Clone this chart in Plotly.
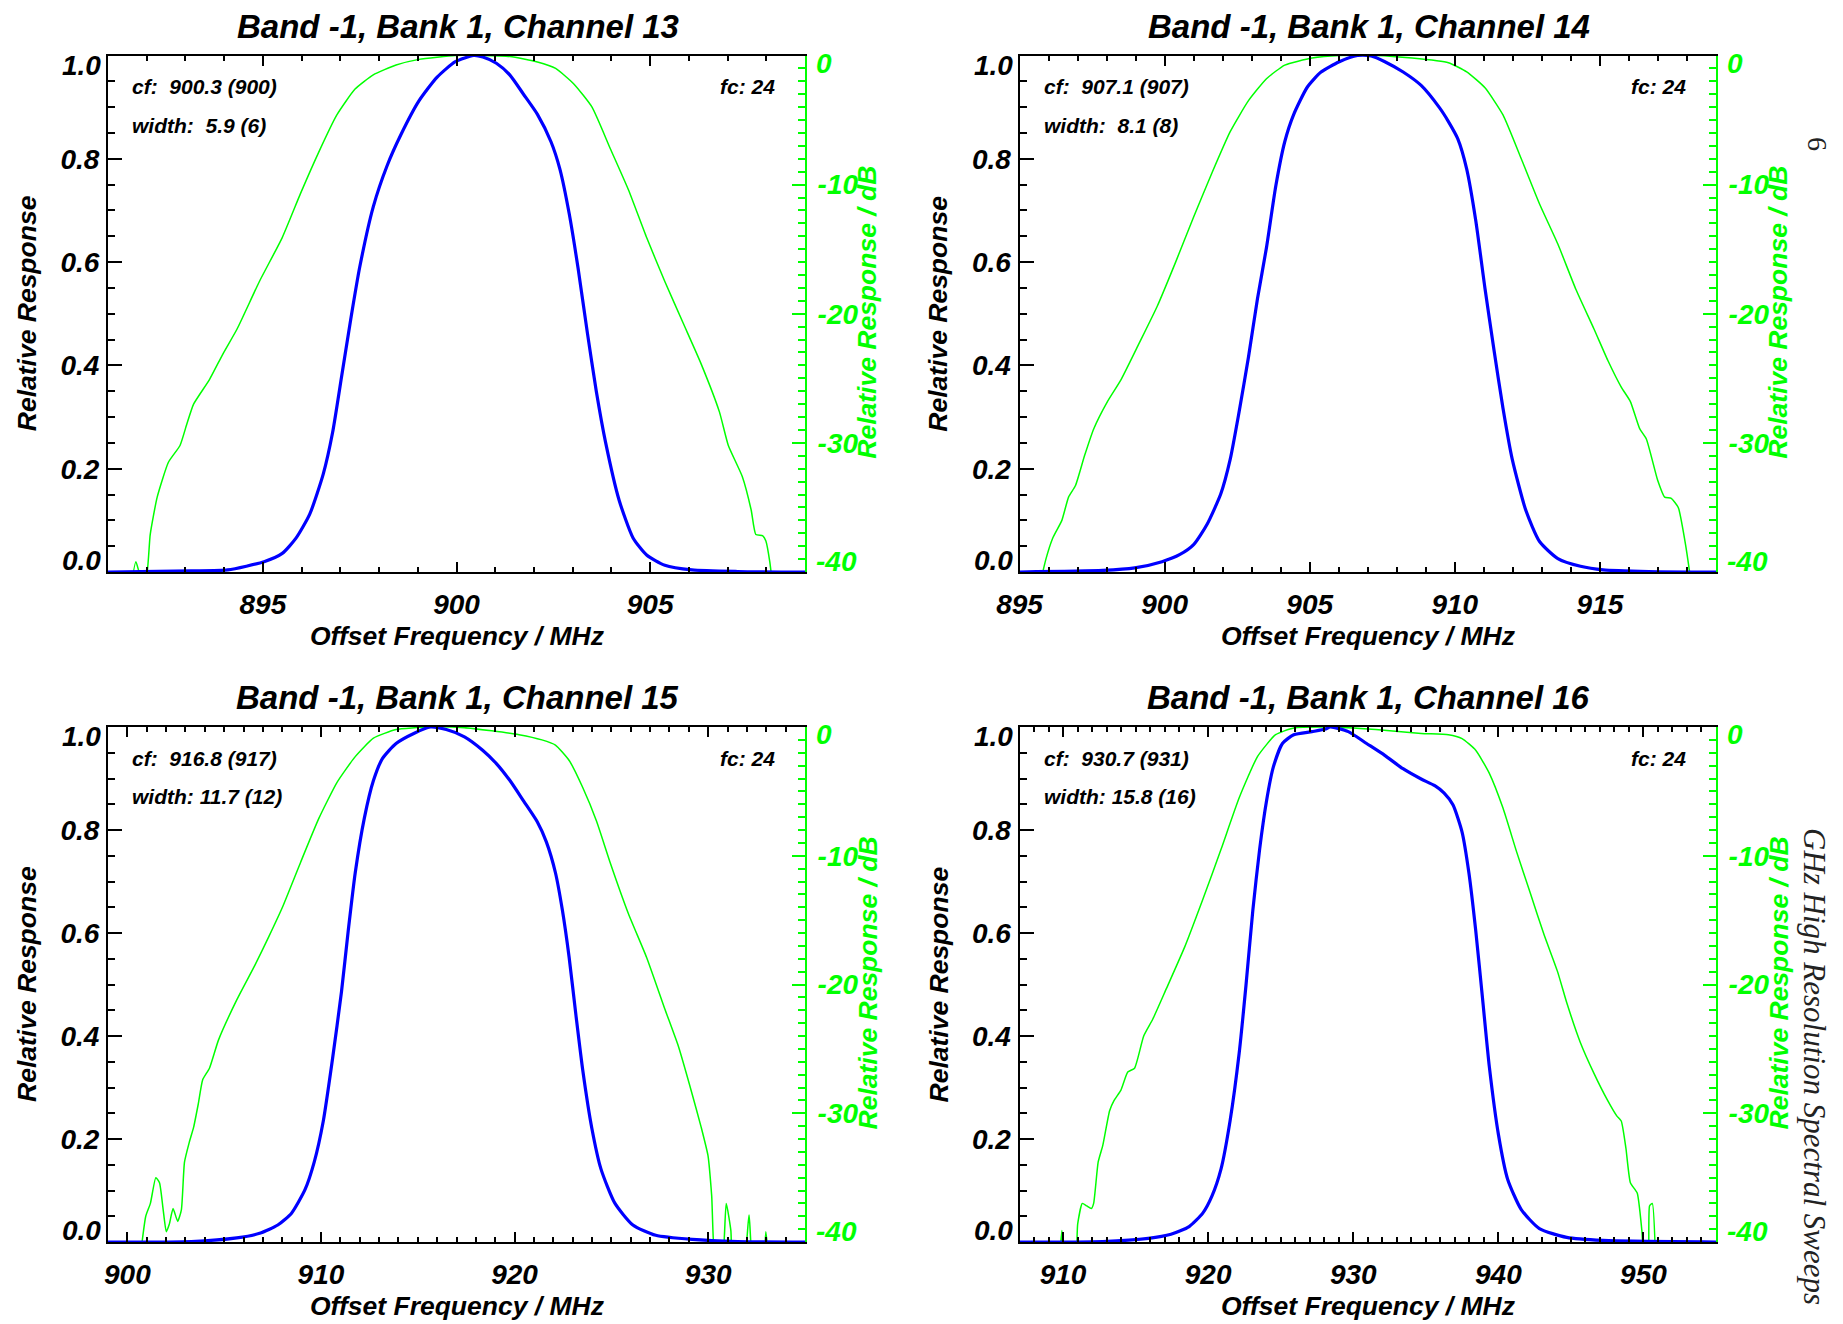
import plotly.graph_objects as go

W, H = 1843, 1324

# ---------------- data ----------------
# Channel 13
ch13_lin_f = [891.0, 893.15, 894.09, 895.03, 895.50, 895.86, 896.21, 896.56, 896.80, 897.03, 897.27, 897.50, 897.85, 898.21, 898.56, 899.03, 899.50, 899.97, 900.44, 900.68, 901.03, 901.38, 901.73, 902.09, 902.44, 902.67, 902.91, 903.14, 903.38, 903.61, 903.85, 904.20, 904.56, 904.91, 905.38, 906.08, 907.26, 909.0]
ch13_lin = [0.0, 0.002, 0.004, 0.020, 0.036, 0.066, 0.112, 0.190, 0.270, 0.377, 0.490, 0.590, 0.707, 0.787, 0.846, 0.912, 0.958, 0.988, 1.0, 0.997, 0.985, 0.962, 0.925, 0.886, 0.833, 0.780, 0.694, 0.588, 0.463, 0.350, 0.251, 0.139, 0.066, 0.033, 0.013, 0.004, 0.001, 0.0]
ch13_db_f = [891.55, 891.72, 891.86, 891.98, 892.09, 892.27, 892.56, 892.86, 893.03, 893.21, 893.62, 893.97, 894.33, 894.91, 895.50, 895.97, 896.44, 896.91, 897.38, 897.85, 898.44, 899.03, 899.97, 900.56, 901.38, 902.09, 902.56, 903.03, 903.50, 903.97, 904.44, 904.91, 905.38, 905.85, 906.32, 906.79, 907.02, 907.38, 907.61, 907.73, 907.91, 907.99, 908.09, 908.2]
ch13_db = [-42, -39.2, -40.5, -40.5, -37.1, -34.2, -31.5, -30.2, -28.6, -27.0, -25.1, -23.1, -21.2, -17.5, -14.1, -10.7, -7.5, -4.6, -2.6, -1.5, -0.74, -0.3, 0.0, 0.0, -0.08, -0.5, -1.0, -2.2, -4.0, -7.2, -10.4, -14.1, -17.5, -20.7, -23.9, -27.6, -30.2, -32.6, -35.2, -37.1, -37.2, -37.6, -39.2, -42]

# Channel 14
ch14_lin_f = [895.0, 897.87, 898.97, 899.91, 900.53, 901.0, 901.47, 901.94, 902.26, 902.57, 902.89, 903.20, 903.51, 903.83, 904.14, 904.45, 904.92, 905.39, 906.02, 906.65, 907.12, 907.59, 908.22, 908.84, 909.47, 909.78, 910.10, 910.41, 910.72, 911.04, 911.35, 911.66, 911.98, 912.45, 912.92, 913.55, 914.33, 915.11, 916.68, 919.0]
ch14_lin = [0.0, 0.003, 0.008, 0.020, 0.034, 0.053, 0.093, 0.152, 0.218, 0.311, 0.416, 0.529, 0.628, 0.747, 0.833, 0.886, 0.939, 0.968, 0.988, 1.0, 0.999, 0.988, 0.968, 0.942, 0.899, 0.872, 0.839, 0.780, 0.681, 0.549, 0.430, 0.317, 0.218, 0.119, 0.059, 0.026, 0.011, 0.004, 0.001, 0.0]
ch14_db_f = [895.6, 895.91, 896.14, 896.46, 896.69, 896.93, 897.24, 897.56, 898.03, 898.50, 899.12, 899.75, 900.38, 901.0, 901.63, 902.26, 902.89, 903.51, 904.14, 905.08, 906.02, 907.27, 908.53, 909.78, 910.41, 911.04, 911.66, 912.29, 912.92, 913.55, 914.17, 914.80, 915.27, 915.74, 916.05, 916.37, 916.60, 916.99, 917.23, 917.46, 917.70, 917.93, 918.09, 918.2]
ch14_db = [-42, -39.0, -37.4, -36.0, -34.2, -33.3, -31.0, -28.9, -26.8, -25.1, -22.3, -19.4, -16.0, -12.5, -9.1, -5.9, -3.5, -1.8, -0.74, -0.2, 0.0, 0.0, -0.2, -0.56, -1.27, -2.5, -4.6, -8.0, -11.5, -14.6, -18.1, -21.2, -23.6, -25.7, -26.8, -28.9, -29.7, -32.9, -34.2, -34.3, -35.0, -37.6, -40.0, -42]

# Channel 15
ch15_lin_f = [899.0, 903.30, 905.65, 906.83, 907.77, 908.48, 909.18, 909.65, 910.12, 910.59, 911.06, 911.41, 911.77, 912.24, 912.71, 913.18, 913.88, 914.82, 915.65, 916.47, 917.41, 918.35, 919.06, 919.76, 920.47, 921.17, 921.64, 922.11, 922.47, 922.82, 923.17, 923.52, 923.99, 924.46, 925.17, 926.11, 927.29, 929.17, 931.52, 935.0]
ch15_lin = [0.0, 0.001, 0.008, 0.017, 0.033, 0.056, 0.102, 0.155, 0.235, 0.354, 0.486, 0.605, 0.717, 0.823, 0.896, 0.939, 0.968, 0.988, 1.0, 0.995, 0.981, 0.955, 0.929, 0.896, 0.856, 0.816, 0.777, 0.717, 0.644, 0.552, 0.440, 0.334, 0.221, 0.142, 0.076, 0.033, 0.013, 0.005, 0.001, 0.0]
ch15_db_f = [900.6, 900.95, 901.19, 901.47, 901.66, 901.85, 902.01, 902.17, 902.36, 902.60, 902.79, 902.95, 903.19, 903.42, 903.66, 903.89, 904.24, 904.71, 905.65, 906.59, 907.30, 908.01, 908.95, 909.89, 910.83, 911.77, 912.71, 913.88, 915.53, 917.41, 918.82, 920.23, 921.41, 922.11, 922.82, 923.52, 924.23, 924.93, 925.88, 926.82, 927.76, 928.46, 929.17, 929.64, 929.99, 930.18, 930.40, 930.69, 930.93, 931.17, 931.30, 931.80, 932.11, 932.35, 932.81, 932.98, 933.16]
ch15_db = [-42, -38.0, -37.0, -35.0, -35.4, -37.5, -39.2, -38.6, -37.4, -38.4, -37.5, -33.8, -32.3, -31.1, -29.3, -27.4, -26.5, -24.3, -21.2, -18.5, -16.3, -14.0, -10.5, -7.1, -4.3, -2.3, -0.87, -0.2, 0.0, -0.05, -0.3, -0.6, -1.0, -1.4, -2.6, -4.7, -7.3, -10.5, -14.5, -17.9, -21.9, -24.8, -28.5, -31.1, -33.3, -36.4, -42, -42, -37.0, -39.1, -42, -42, -37.9, -42, -42, -39.2, -42]

# Channel 16
ch16_lin_f = [907.0, 912.74, 915.87, 917.44, 918.69, 919.63, 920.26, 920.89, 921.51, 922.14, 922.61, 923.08, 923.55, 924.02, 924.49, 925.12, 925.90, 927.16, 928.10, 928.41, 929.66, 930.92, 932.17, 933.43, 934.68, 935.62, 936.25, 936.87, 937.50, 937.97, 938.44, 938.91, 939.38, 940.01, 940.64, 941.58, 942.83, 944.71, 947.22, 955.0]
ch16_lin = [0.0, 0.001, 0.007, 0.015, 0.030, 0.056, 0.089, 0.142, 0.235, 0.367, 0.499, 0.644, 0.763, 0.856, 0.922, 0.968, 0.985, 0.991, 0.996, 1.0, 0.991, 0.968, 0.945, 0.919, 0.899, 0.886, 0.872, 0.849, 0.796, 0.717, 0.605, 0.473, 0.340, 0.208, 0.122, 0.063, 0.026, 0.009, 0.003, 0.0]
ch16_db_f = [909.7, 909.92, 910.1, 910.8, 911.01, 911.33, 911.64, 911.95, 912.11, 912.42, 912.74, 913.21, 913.52, 913.99, 914.46, 914.93, 915.56, 916.18, 917.13, 918.38, 919.63, 920.89, 922.14, 923.40, 924.65, 925.90, 928.41, 931.55, 934.68, 936.56, 937.50, 938.44, 939.38, 940.32, 941.26, 942.20, 943.14, 944.08, 944.71, 945.65, 946.59, 947.53, 948.16, 948.47, 948.79, 949.10, 949.57, 949.89, 950.10, 950.30, 950.42, 950.61, 950.85]
ch16_db = [-42, -39.1, -42, -42, -38.6, -37.0, -37.2, -37.4, -37.0, -33.8, -32.5, -29.8, -29.0, -28.2, -26.8, -26.5, -24.0, -22.7, -20.3, -17.1, -13.4, -9.5, -5.5, -2.3, -0.6, -0.08, 0.0, -0.2, -0.5, -0.6, -0.9, -1.8, -3.6, -6.3, -9.7, -12.9, -16.1, -19.0, -21.4, -24.5, -26.9, -29.0, -30.2, -30.6, -32.7, -35.4, -36.2, -39.1, -42, -42, -37.2, -37.0, -42]

titles = ["Band -1, Bank 1, Channel 13", "Band -1, Bank 1, Channel 14",
          "Band -1, Bank 1, Channel 15", "Band -1, Bank 1, Channel 16"]
cf_labels = ["cf:\u00a0 900.3 (900)", "cf:\u00a0 907.1 (907)", "cf:\u00a0 916.8 (917)", "cf:\u00a0 930.7 (931)"]
width_labels = ["width:\u00a0 5.9 (6)", "width:\u00a0 8.1 (8)", "width: 11.7 (12)", "width: 15.8 (16)"]
fc_label = "fc: 24"
x_ranges = [[891, 909], [895, 919], [899, 935], [907, 955]]
x_dticks = [5, 5, 10, 10]
lin_ticks = [0.2, 0.4, 0.6, 0.8]
lin_ticktext = ["0.2", "0.4", "0.6", "0.8"]
db_ticks = [-30, -20, -10]
db_ticktext = ["-30", "-20", "-10"]
x_title = "Offset Frequency / MHz"
y_title = "Relative Response"
y2_title = "Relative Response / dB"
page_header = "GHz High Resolution Spectral Sweeps"
page_number = "6"

lin_f = [ch13_lin_f, ch14_lin_f, ch15_lin_f, ch16_lin_f]
lin = [ch13_lin, ch14_lin, ch15_lin, ch16_lin]
db_f = [ch13_db_f, ch14_db_f, ch15_db_f, ch16_db_f]
db = [ch13_db, ch14_db, ch15_db, ch16_db]

# ---------------- styling ----------------
BLUE = "#0000ff"
GREEN = "#00ff00"
FAM = "Liberation Sans, Arial, Helvetica, sans-serif"
TICK_SIZE = 28
TITLE_SIZE = 33
AXT_SIZE = 26.5
NOTE_SIZE = 21


def bfont(size, color="black"):
    return dict(family=FAM, size=size, color=color, weight="bold", style="italic")


# plot-area pixel boxes in page pixels (left, right, top, bottom)
panels = [(108, 805, 55.5, 572), (1019.5, 1716, 55.5, 572),
          (108, 805, 727, 1242), (1019.5, 1716, 727, 1242)]


def px(x):
    return x / W


def py(y):
    return 1 - y / H


fig = go.Figure()
layout = {}
annotations = []

for i in range(4):
    L, R, T, B = panels[i]
    xname = "x" if i == 0 else f"x{i + 1}"
    xkey = "xaxis" if i == 0 else f"xaxis{i + 1}"
    db_id = 2 * i + 1
    lin_id = 2 * i + 2
    db_name = "y" if db_id == 1 else f"y{db_id}"
    db_key = "yaxis" if db_id == 1 else f"yaxis{db_id}"
    lin_name = f"y{lin_id}"
    lin_key = f"yaxis{lin_id}"

    fig.add_trace(go.Scatter(
        x=db_f[i], y=db[i], xaxis=xname, yaxis=db_name, mode="lines",
        line=dict(color=GREEN, width=1.5, shape="spline", smoothing=0.5),
        showlegend=False, hoverinfo="skip"))
    fig.add_trace(go.Scatter(
        x=lin_f[i], y=lin[i], xaxis=xname, yaxis=lin_name, mode="lines",
        line=dict(color=BLUE, width=3.2, shape="spline", smoothing=0.6),
        showlegend=False, hoverinfo="skip"))

    layout[xkey] = dict(
        domain=[px(L), px(R)], anchor=db_name, range=x_ranges[i],
        tickmode="linear", tick0=0, dtick=x_dticks[i],
        ticks="inside", ticklen=10, tickwidth=2, tickcolor="black",
        showline=True, linecolor="black", linewidth=2, mirror="ticks",
        minor=dict(tickmode="linear", tick0=0, dtick=1, ticks="inside",
                   ticklen=5, tickwidth=2, tickcolor="black"),
        tickfont=bfont(TICK_SIZE), showgrid=False, zeroline=False,
        ticklabelstandoff=6, automargin=False)
    layout[db_key] = dict(
        domain=[py(B), py(T)], anchor=xname, side="right", range=[-40, 0],
        tickmode="array", tickvals=db_ticks, ticktext=db_ticktext,
        ticks="inside", ticklen=13, tickwidth=2, tickcolor=GREEN,
        showline=True, linecolor=GREEN, linewidth=2,
        minor=dict(tickmode="array", tickvals=[v for v in range(-40, 1) if v % 10 != 0],
                   ticks="inside", ticklen=7, tickwidth=2, tickcolor=GREEN),
        tickfont=bfont(TICK_SIZE, GREEN), showgrid=False, zeroline=False,
        ticklabelstandoff=5, automargin=False)
    layout[lin_key] = dict(
        overlaying=db_name, anchor=xname, side="left", range=[0, 1],
        tickmode="array", tickvals=[0, 0.2, 0.4, 0.6, 0.8, 1.0],
        ticktext=[" "] + lin_ticktext + [" "],
        ticks="inside", ticklen=14, tickwidth=2, tickcolor="black",
        showline=True, linecolor="black", linewidth=2,
        minor=dict(tickmode="array", tickvals=[k * 0.05 for k in range(21) if k % 4 != 0],
                   ticks="inside", ticklen=7, tickwidth=2, tickcolor="black"),
        tickfont=bfont(TICK_SIZE), showgrid=False, zeroline=False,
        ticklabelstandoff=1, automargin=False)

    # end tick labels, nudged inward like the original
    annotations += [
        dict(text="1.0", xref="paper", yref=lin_name, x=px(L - 5), y=1.0, yshift=-10,
             xanchor="right", yanchor="middle", showarrow=False, font=bfont(TICK_SIZE)),
        dict(text="0.0", xref="paper", yref=lin_name, x=px(L - 5), y=0.0, yshift=12,
             xanchor="right", yanchor="middle", showarrow=False, font=bfont(TICK_SIZE)),
        dict(text="0", xref="paper", yref=db_name, x=px(R + 9), y=0, yshift=-8,
             xanchor="left", yanchor="middle", showarrow=False, font=bfont(TICK_SIZE, GREEN)),
        dict(text="-40", xref="paper", yref=db_name, x=px(R + 9), y=-40, yshift=11,
             xanchor="left", yanchor="middle", showarrow=False, font=bfont(TICK_SIZE, GREEN)),
    ]
    # titles and notes
    annotations += [
        dict(text=titles[i], xref="paper", yref="paper", x=px((L + R) / 2 + 1), y=py(T - 29.5),
             xanchor="center", yanchor="middle", showarrow=False, font=bfont(TITLE_SIZE)),
        dict(text=x_title, xref="paper", yref="paper", x=px((L + R) / 2 + 1), y=py(B + 64),
             xanchor="center", yanchor="middle", showarrow=False, font=bfont(AXT_SIZE)),
        dict(text=y_title, xref="paper", yref="paper", x=px(L - 81.5), y=py((T + B) / 2),
             xanchor="center", yanchor="middle", textangle=-90, showarrow=False,
             font=bfont(AXT_SIZE)),
        dict(text=y2_title, xref="paper", yref="paper", x=px(R + 62), y=py((T + B) / 2 - 1),
             xanchor="center", yanchor="middle", textangle=-90, showarrow=False,
             font=bfont(AXT_SIZE, GREEN)),
        dict(text=cf_labels[i], xref="paper", yref="paper", x=px(L + 22), y=py(T + 31.5),
             xanchor="left", yanchor="middle", showarrow=False, font=bfont(NOTE_SIZE)),
        dict(text=width_labels[i], xref="paper", yref="paper", x=px(L + 22), y=py(T + 69.5),
             xanchor="left", yanchor="middle", showarrow=False, font=bfont(NOTE_SIZE)),
        dict(text=fc_label, xref="paper", yref="paper", x=px(R - 28), y=py(T + 31.5),
             xanchor="right", yanchor="middle", showarrow=False, font=bfont(NOTE_SIZE)),
    ]

# page furniture
annotations += [
    dict(text=page_number, xref="paper", yref="paper", x=px(1817), y=py(144),
         xanchor="center", yanchor="middle", textangle=90, showarrow=False,
         font=dict(family="Liberation Serif, Times New Roman, serif", size=28, color="#222222")),
    dict(text=page_header, xref="paper", yref="paper", x=px(1815), y=py(1066),
         xanchor="center", yanchor="middle", textangle=90, showarrow=False,
         font=dict(family="Liberation Serif, Times New Roman, serif", size=31,
                   color="#222222", style="italic")),
]

fig.update_layout(
    width=W, height=H,
    margin=dict(l=0, r=0, t=0, b=0),
    paper_bgcolor="white", plot_bgcolor="white",
    showlegend=False,
    annotations=annotations,
    **layout,
)

fig.write_html("out.html",
               config={"displayModeBar": False},
               post_script="document.body.style.margin='0';document.body.style.overflow='hidden';")
